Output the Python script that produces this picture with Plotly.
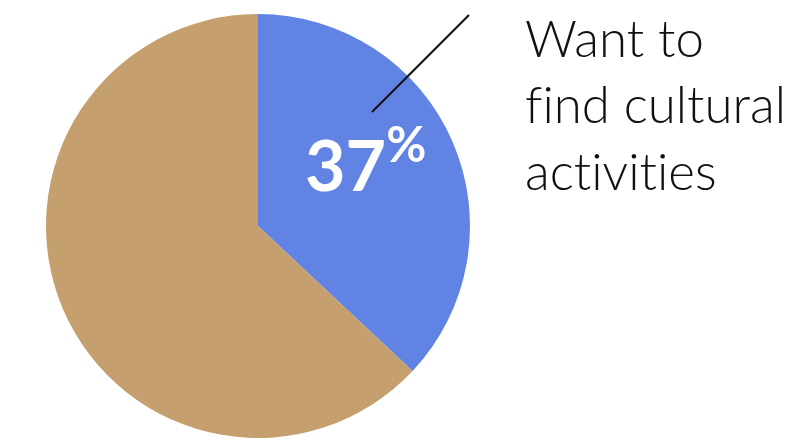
import plotly.graph_objects as go

# Share of respondents
labels = ["Want to find cultural activities", "Other"]
values = [37, 63]
colors = ["#6183E4", "#C69F6E"]
callout_lines = ["Want to", "find cultural", "activities"]

W, H = 794, 438
M_T = 14

def px(x):
    return x / W

def py(y):
    return 1 - (y - M_T) / (H - M_T)

def no_ligatures(s):
    # zero-width non-joiner keeps "fi" / "ti" from fusing into ligatures
    zwnj = "\u200c"
    return s.replace("fi", "f" + zwnj + "i").replace("ti", "t" + zwnj + "i")

fig = go.Figure(
    go.Pie(
        labels=labels,
        values=values,
        sort=False,
        direction="clockwise",
        rotation=0,
        marker=dict(colors=colors, line=dict(width=0)),
        textinfo="none",
        hoverinfo="label+percent",
        showlegend=False,
        domain=dict(x=[0, 516 / W], y=[0, 1]),
    )
)

# Leader line from the blue slice to the callout text
fig.add_shape(
    type="line", xref="paper", yref="paper",
    x0=px(372), y0=py(112), x1=px(469), y1=py(15),
    line=dict(color="#111111", width=2.2),
)

# Big value label inside the slice
fig.add_annotation(
    xref="paper", yref="paper",
    x=px(303), y=py(160), xanchor="left", yanchor="middle",
    text=f"<b>{values[0]}</b><sup>%</sup>",
    showarrow=False,
    font=dict(family="Lato", size=70, color="white", weight=700),
)

# Callout text
fig.add_annotation(
    xref="paper", yref="paper",
    x=px(523), y=py(5), xanchor="left", yanchor="top",
    text="<br>".join(no_ligatures(s) for s in callout_lines), align="left",
    showarrow=False,
    font=dict(family="Lato", size=51, color="#111111", weight=300),
)

fig.update_layout(
    width=W, height=H,
    margin=dict(l=0, r=0, t=M_T, b=0),
    paper_bgcolor="white",
    plot_bgcolor="white",
)

fig.write_html("out.html")
